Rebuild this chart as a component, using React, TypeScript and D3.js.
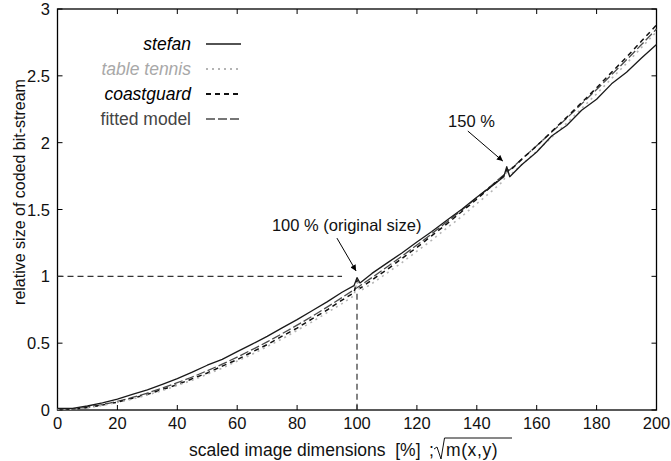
import React, { useRef, useEffect } from 'react';
import * as d3 from 'd3';

// scaled image dimensions [%]
const dims = [0, 5, 10, 15, 20, 25, 30, 35, 40, 45, 50, 55, 60, 65, 70, 75, 80, 85, 90, 95, 99, 100, 101,
  105, 110, 115, 120, 125, 130, 135, 140, 145, 149, 150, 151, 155, 160, 165, 170, 175, 180, 185, 190, 195, 200];

// relative size of coded bit-stream, one array per sequence
const stefan = [0.012, 0.012, 0.03, 0.054, 0.081, 0.116, 0.151, 0.192, 0.235, 0.283, 0.335, 0.379, 0.437, 0.493,
  0.551, 0.614, 0.676, 0.743, 0.809, 0.881, 0.93, 0.99, 0.95, 1.022, 1.099, 1.175, 1.257, 1.336, 1.42, 1.502,
  1.591, 1.675, 1.745, 1.82, 1.745, 1.835, 1.93, 2.05, 2.128, 2.242, 2.325, 2.44, 2.527, 2.634, 2.735];
const tableTennis = [0.008, 0.006, 0.017, 0.034, 0.057, 0.081, 0.113, 0.145, 0.184, 0.223, 0.268, 0.314, 0.366,
  0.417, 0.475, 0.532, 0.596, 0.659, 0.728, 0.796, 0.855, 0.96, 0.89, 0.946, 1.024, 1.103, 1.188, 1.271, 1.361,
  1.449, 1.544, 1.637, 1.716, 1.79, 1.755, 1.835, 1.935, 2.041, 2.146, 2.256, 2.365, 2.48, 2.593, 2.712, 2.83];
const coastguard = [0.01, 0.007, 0.018, 0.037, 0.059, 0.087, 0.117, 0.153, 0.19, 0.234, 0.277, 0.328, 0.377,
  0.434, 0.489, 0.552, 0.613, 0.682, 0.748, 0.822, 0.878, 0.97, 0.91, 0.973, 1.05, 1.134, 1.216, 1.305, 1.392,
  1.485, 1.577, 1.676, 1.752, 1.8, 1.79, 1.875, 1.976, 2.083, 2.189, 2.3, 2.41, 2.526, 2.64, 2.76, 2.88];
const fitted = [0.0, 0.008, 0.021, 0.041, 0.065, 0.094, 0.127, 0.164, 0.204, 0.247, 0.294, 0.343, 0.396, 0.452,
  0.51, 0.571, 0.635, 0.701, 0.77, 0.841, 0.9, 0.915, 0.93, 0.991, 1.07, 1.151, 1.234, 1.319, 1.407, 1.496,
  1.588, 1.682, 1.759, 1.778, 1.797, 1.877, 1.977, 2.079, 2.183, 2.29, 2.398, 2.508, 2.62, 2.734, 2.85];

const xTicks = [0, 20, 40, 60, 80, 100, 120, 140, 160, 180, 200];
const yTicks = [0, 0.5, 1, 1.5, 2, 2.5, 3];

const series = [
  { name: 'stefan', values: stefan, color: '#1a1a1a', dash: null, width: 1.3, italic: true, text: '#000' },
  { name: 'table tennis', values: tableTennis, color: '#b4b4b4', dash: '2,4', width: 1.6, italic: true, text: '#a8a8a8' },
  { name: 'coastguard', values: coastguard, color: '#111', dash: '5,4', width: 1.5, italic: true, text: '#000' },
  { name: 'fitted model', values: fitted, color: '#4a4a4a', dash: '9,3', width: 1.3, italic: false, text: '#444' },
];

const FONT = '"Liberation Sans", Arial, Helvetica, sans-serif';

function Chart() {
  const ref = useRef(null);

  useEffect(() => {
    const svg = d3.select(ref.current);
    svg.selectAll('*').remove();

    const x = d3.scaleLinear().domain([0, 200]).range([57.5, 656.5]);
    const y = d3.scaleLinear().domain([0, 3]).range([410, 9]);

    svg.append('defs').append('marker')
      .attr('id', 'arrow')
      .attr('viewBox', '0 0 10 10')
      .attr('refX', 10).attr('refY', 5)
      .attr('markerWidth', 7).attr('markerHeight', 6)
      .attr('markerUnits', 'userSpaceOnUse')
      .attr('orient', 'auto')
      .append('path').attr('d', 'M0,0L10,5L0,10Z').attr('fill', '#000');

    // frame + inward ticks
    const ticks = svg.append('g').attr('stroke', '#000').attr('stroke-width', 1);
    xTicks.forEach(t => {
      ticks.append('line').attr('x1', x(t)).attr('x2', x(t)).attr('y1', y(0)).attr('y2', y(0) - 5);
      ticks.append('line').attr('x1', x(t)).attr('x2', x(t)).attr('y1', y(3)).attr('y2', y(3) + 5);
    });
    yTicks.forEach(t => {
      ticks.append('line').attr('x1', x(0)).attr('x2', x(0) + 5).attr('y1', y(t)).attr('y2', y(t));
      ticks.append('line').attr('x1', x(200)).attr('x2', x(200) - 5).attr('y1', y(t)).attr('y2', y(t));
    });
    svg.append('rect')
      .attr('x', x(0)).attr('y', y(3))
      .attr('width', x(200) - x(0)).attr('height', y(0) - y(3))
      .attr('fill', 'none').attr('stroke', '#000').attr('stroke-width', 1.3);

    const labels = svg.append('g').attr('font-family', FONT).attr('font-size', 16.5).attr('fill', '#111');
    xTicks.forEach(t => {
      labels.append('text').attr('x', x(t)).attr('y', 429).attr('text-anchor', 'middle').text(t);
    });
    yTicks.forEach(t => {
      labels.append('text').attr('x', 50).attr('y', y(t) + 6).attr('text-anchor', 'end').text(String(t));
    });

    // axis titles
    labels.append('text').attr('x', 189).attr('y', 456).attr('font-size', 17.5).attr('xml:space', 'preserve')
      .text('scaled image dimensions  [%]');
    labels.append('text').attr('x', 429).attr('y', 456).attr('font-size', 17.5).text(';');
    labels.append('text').attr('x', 446).attr('y', 456).attr('font-size', 17.5).attr('letter-spacing', 0.6).text('m(x,y)');
    svg.append('path')
      .attr('d', 'M434,449 L437,447 L441,459 L444.5,438 L512,438')
      .attr('fill', 'none').attr('stroke', '#111').attr('stroke-width', 1);
    labels.append('text')
      .attr('font-size', 16)
      .attr('transform', 'translate(25,192) rotate(-90)')
      .attr('text-anchor', 'middle')
      .text('relative size of coded bit-stream');

    // reference lines at 100 %
    const ref100 = svg.append('g').attr('stroke', '#333').attr('stroke-width', 1.2).attr('stroke-dasharray', '6,4');
    ref100.append('line').attr('x1', x(0)).attr('x2', x(95)).attr('y1', y(1)).attr('y2', y(1));
    ref100.append('line').attr('x1', x(100)).attr('x2', x(100)).attr('y1', y(0.87)).attr('y2', y(0));

    // curves
    series.slice().reverse().forEach(s => {
      const line = d3.line()
        .x((d, i) => x(dims[i]))
        .y(d => y(d))
        .curve(s.name === 'fitted model' ? d3.curveMonotoneX : d3.curveLinear);
      svg.append('path')
        .datum(s.values)
        .attr('d', line)
        .attr('fill', 'none')
        .attr('stroke', s.color)
        .attr('stroke-width', s.width)
        .attr('stroke-dasharray', s.dash)
        .attr('stroke-linejoin', 'round');
    });

    // legend
    const legend = svg.append('g').attr('font-family', FONT).attr('font-size', 17.5);
    series.forEach((s, i) => {
      const ly = 44 + i * 25;
      legend.append('text')
        .attr('x', 191).attr('y', ly + 6)
        .attr('text-anchor', 'end')
        .attr('font-style', s.italic ? 'italic' : 'normal')
        .attr('fill', s.text)
        .text(s.name);
      legend.append('line')
        .attr('x1', 206).attr('x2', 241).attr('y1', ly).attr('y2', ly)
        .attr('stroke', s.color)
        .attr('stroke-width', s.width + 0.3)
        .attr('stroke-dasharray', s.dash);
    });

    // annotations
    const note = svg.append('g').attr('font-family', FONT).attr('font-size', 16.5).attr('fill', '#111');
    note.append('text').attr('x', x(71.6)).attr('y', y(1.34)).text('100 % (original size)');
    note.append('text').attr('x', x(130.4)).attr('y', y(2.117)).text('150 %');
    svg.append('line')
      .attr('x1', x(93.3)).attr('y1', y(1.286)).attr('x2', x(99.7)).attr('y2', y(1.04))
      .attr('stroke', '#000').attr('stroke-width', 1).attr('marker-end', 'url(#arrow)');
    svg.append('line')
      .attr('x1', x(137)).attr('y1', y(2.087)).attr('x2', x(148.7)).attr('y2', y(1.862))
      .attr('stroke', '#000').attr('stroke-width', 1).attr('marker-end', 'url(#arrow)');
  });

  return (
    <svg
      width={671}
      height={461}
      ref={ref}
      style={{ position: 'absolute', left: 0, top: 0, background: '#fff' }}
    />
  );
}

export default function App() {
  return <Chart />;
}
